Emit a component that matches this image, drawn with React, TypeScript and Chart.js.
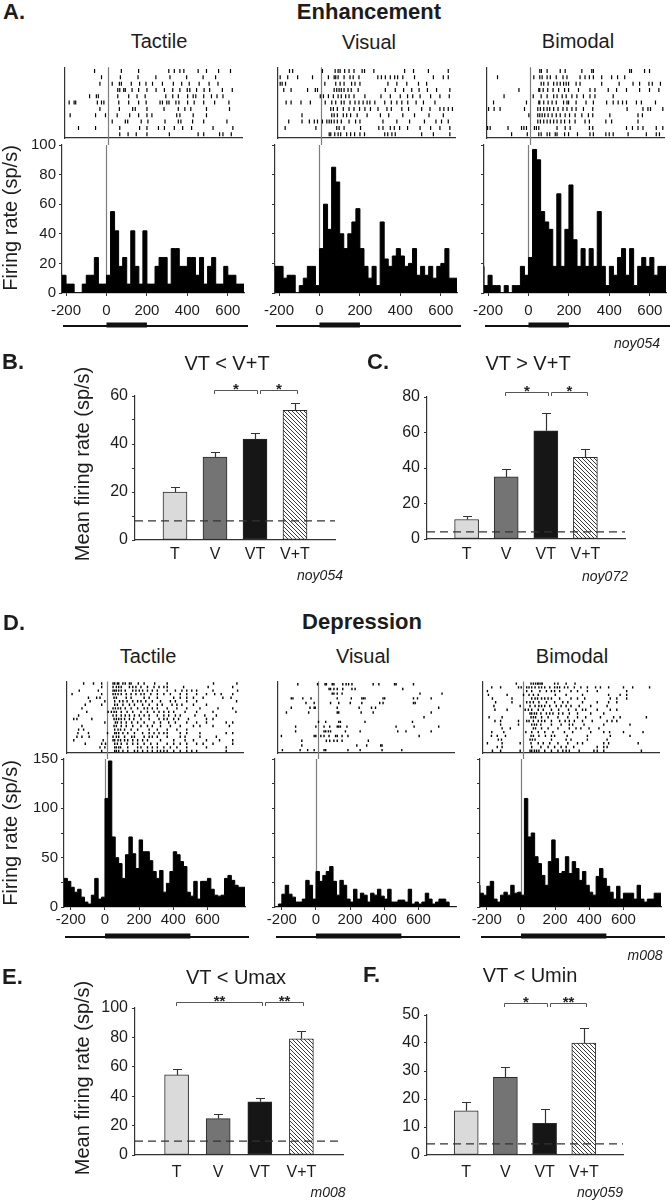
import React, { useEffect, useRef } from 'react';
import { Chart, registerables } from 'chart.js';

Chart.register(...registerables);

const FONT = '"Liberation Sans", Arial, Helvetica, sans-serif';
const INK = '#1c1c1c';
const AXIS = '#333333';
Chart.defaults.font.family = FONT;

// ---------------- Panel A : Enhancement ----------------
const A_X_MIN = -220;
const A_X_MAX = 680;
const A_BIN_MS = 20;
const A_X_TICKS = [-200, 0, 200, 400, 600];
const A_STIMULUS = [0, 200];
const A_Y_MAX = 100;

const A_TACTILE_RATE = [12, 12, 6, 6, 0, 0, 6, 12, 12, 24, 6, 6, 12, 55, 42, 18, 24, 6, 42, 18, 6, 42, 6, 6, 18, 24, 24, 6, 30, 30, 18, 18, 24, 24, 12, 24, 6, 18, 24, 6, 6, 18, 12, 12, 6];
const A_VISUAL_RATE = [10, 18, 18, 10, 12, 12, 0, 5, 10, 18, 18, 5, 30, 60, 43, 85, 75, 40, 30, 40, 48, 57, 30, 18, 10, 18, 5, 48, 23, 18, 25, 30, 25, 18, 20, 30, 12, 18, 12, 18, 10, 18, 20, 30, 10];
const A_BIMODAL_RATE = [18, 5, 12, 5, 5, 0, 5, 0, 5, 5, 18, 12, 24, 97, 90, 55, 48, 43, 18, 67, 18, 43, 73, 36, 18, 30, 18, 30, 18, 55, 18, 5, 18, 12, 24, 30, 12, 30, 5, 18, 24, 18, 24, 12, 18];

const A_TACTILE_SPIKES = [
  [-67, 68, 155, 307, 335, 363, 383, 455, 497, 558, 618],
  [-32, 63, 152, 242, 313, 397, 480, 543],
  [-40, 22, 58, 68, 118, 160, 192, 225, 275, 330, 372, 410, 460, 510, 555],
  [50, 60, 80, 88, 122, 155, 197, 243, 285, 327, 363, 400, 413, 447, 485, 513, 577, 627],
  [-92, -58, -48, 50, 105, 147, 188, 292, 327, 355, 402, 430, 443, 483, 522, 550, 580],
  [-195, -170, -162, -53, -32, -20, 55, 105, 155, 193, 263, 275, 297, 308, 343, 358, 402, 435, 483, 538, 610],
  [-40, 58, 125, 138, 197, 283, 355, 388, 418, 497, 613],
  [-190, -62, -12, 47, 110, 155, 197, 222, 347, 363, 430, 497],
  [22, 88, 100, 168, 202, 288, 355, 368, 427, 483, 600],
  [-148, -62, 60, 160, 197, 255, 285, 335, 377, 422, 530, 630],
  [60, 102, 143, 197, 310, 455, 483, 563, 580, 622],
];
const A_VISUAL_SPIKES = [
  [-158, -142, 8, 72, 87, 97, 120, 142, 167, 208, 220, 267, 422, 467, 542, 642],
  [-205, -167, -117, -42, 38, 67, 75, 87, 117, 147, 163, 192, 287, 305, 325, 350, 372, 387, 413, 472, 567, 617, 642],
  [-205, -195, -178, 20, 75, 97, 117, 155, 172, 197, 338, 383, 433, 492, 533],
  [-187, -150, -67, -28, -17, 67, 80, 92, 103, 117, 137, 153, 188, 325, 375, 417, 458, 495, 537, 583, 650],
  [-3, 13, 38, 63, 87, 103, 125, 142, 167, 222, 303, 350, 400, 437, 463, 500, 553, 600, 647],
  [-175, -150, -100, -53, 22, 55, 75, 103, 117, 147, 172, 192, 213, 233, 247, 272, 322, 355, 383, 408, 438, 480, 517, 575],
  [50, 63, 83, 113, 142, 167, 195, 222, 250, 288, 333, 355, 408, 442, 508, 550, 600, 620, 642, 663],
  [-95, 55, 67, 83, 113, 130, 150, 183, 233, 300, 342, 413, 472, 545, 617],
  [-162, -95, -58, -33, -17, 8, 30, 42, 53, 67, 83, 103, 142, 175, 197, 313, 383, 447, 522, 580, 608, 642],
  [-180, -25, 80, 92, 117, 200, 292, 313, 350, 370, 397, 437, 500, 553, 600, 650],
  [42, 50, 70, 87, 100, 130, 150, 170, 197, 220, 322, 337, 358, 375, 508, 567, 650],
];
const A_BIMODAL_SPIKES = [
  [50, 58, 87, 153, 178, 262, 312, 320, 503, 512, 578, 603],
  [-163, 20, 50, 62, 87, 103, 133, 167, 187, 253, 278, 300, 320, 362, 412, 442, 478],
  [57, 70, 92, 120, 137, 153, 170, 183, 195, 233, 253, 362, 450, 520, 553, 600, 617, 658],
  [-55, 45, 50, 67, 90, 117, 145, 175, 195, 245, 303, 328, 395, 437, 487, 553, 603, 650],
  [-130, 17, 57, 87, 120, 137, 163, 183, 212, 237, 270, 303, 328, 420],
  [-183, -17, 45, 50, 70, 92, 112, 133, 170, 187, 195, 233, 283, 320, 387, 420, 445, 467, 487, 537, 562, 633],
  [-208, -180, -150, -27, 40, 53, 70, 87, 100, 120, 142, 167, 187, 212, 233, 270, 317, 490, 570, 595, 608, 670],
  [-5, 40, 50, 62, 75, 92, 112, 133, 153, 178, 200, 228, 262, 295, 317, 403, 545, 567],
  [40, 53, 70, 87, 103, 120, 137, 157, 175, 200, 228, 278, 300, 383, 412, 545],
  [-213, -200, -110, -42, -30, -17, 23, 33, 45, 137, 178, 203, 300, 317, 487, 517, 545, 570, 637, 670],
  [-92, -13, 45, 57, 87, 100, 128, 137, 175, 195, 240, 303, 320, 383, 400, 420, 495, 587, 637, 653],
];

// ---------------- Bar panels ----------------
const BAR_LABELS = ['T', 'V', 'VT', 'V+T'];

const B_MEANS = [20, 34.5, 42, 54];
const B_SEM = [2, 2.3, 2.5, 3];
const B_BASELINE = 8;
const B_BRACKETS: [number, number, string][] = [[1, 2, '*'], [2, 3, '*']];

const C_MEANS = [11, 35, 61, 46];
const C_SEM = [2.2, 4.4, 10, 4.5];
const C_BASELINE = 4;
const C_BRACKETS: [number, number, string][] = [[1, 2, '*'], [2, 3, '*']];

const E_MEANS = [54.5, 24.7, 36.2, 79];
const E_SEM = [4.3, 3.2, 2.7, 5.5];
const E_BASELINE = 9.5;
const E_BRACKETS: [number, number, string][] = [[0, 2, '**'], [2, 3, '**']];

const F_MEANS = [15.8, 27.7, 11.3, 40];
const F_SEM = [3, 3.6, 5, 5.5];
const F_BASELINE = 4;
const F_BRACKETS: [number, number, string][] = [[1, 2, '*'], [2, 3, '**']];

// ---------------- Panel D : Depression ----------------
const D_X_MIN = -240;
const D_X_MAX = 820;
const D_BIN_MS = 20;
const D_X_TICKS = [-200, 0, 200, 400, 600];
const D_STIMULUS = [0, 500];
const D_Y_MAX = 150;

const D_TACTILE_RATE = [15, 29, 26, 20, 15, 18, 10, 5, 3, 12, 29, 8, 10, 110, 148, 71, 50, 44, 29, 53, 71, 54, 39, 68, 56, 56, 47, 36, 29, 37, 15, 24, 36, 56, 53, 46, 41, 15, 11, 26, 8, 26, 26, 29, 18, 12, 11, 12, 29, 32, 27, 22, 20];
const D_VISUAL_RATE = [0, 0, 3, 13, 22, 13, 10, 5, 5, 8, 27, 22, 8, 36, 26, 32, 36, 41, 26, 12, 27, 22, 8, 5, 18, 8, 14, 12, 5, 14, 12, 18, 11, 8, 18, 5, 5, 7, 7, 5, 18, 3, 5, 3, 5, 14, 8, 3, 5, 8, 8, 5, 0];
const D_BIMODAL_RATE = [22, 14, 12, 21, 26, 8, 5, 12, 15, 12, 22, 14, 15, 12, 110, 71, 75, 51, 44, 32, 22, 46, 68, 49, 34, 36, 51, 34, 46, 39, 27, 36, 22, 15, 12, 31, 39, 29, 21, 15, 8, 21, 8, 14, 14, 14, 8, 22, 8, 5, 8, 8, 14];

const D_TACTILE_SPIKES = [
  [-137, -78, -29, 39, 49, 65, 73, 98, 112, 137, 147, 190, 225, 288, 363, 640, 780],
  [-29, 39, 59, 73, 88, 137, 157, 176, 206, 245, 284, 314, 343, 363, 461, 608, 755],
  [-163, -49, 39, 49, 59, 73, 88, 112, 157, 176, 196, 216, 245, 274, 304, 363, 412, 451, 480, 510, 539, 637, 784],
  [-206, -29, 39, 53, 69, 88, 118, 147, 176, 206, 225, 265, 304, 343, 382, 441, 480, 539, 598, 647, 686, 755],
  [-108, -59, -39, 45, 59, 118, 147, 225, 255, 304, 402, 441, 480, 520, 578, 696, 745],
  [-98, -10, 49, 78, 98, 123, 157, 186, 206, 235, 274, 323, 382, 412, 480, 539, 778],
  [-127, -29, 49, 65, 98, 137, 167, 216, 255, 304, 333, 392, 421, 451, 520, 598],
  [-147, 39, 53, 69, 84, 112, 147, 186, 225, 245, 274, 304, 363, 421, 480, 559, 667, 755],
  [-118, 10, 29, 45, 59, 88, 123, 157, 206, 245, 284, 314, 343, 372, 402, 470, 539, 637, 774],
  [-167, 39, 59, 88, 112, 137, 167, 196, 225, 255, 304, 343, 372, 412, 441, 529, 588, 657],
  [-196, -177, -88, 45, 59, 73, 88, 108, 137, 163, 206, 255, 314, 343, 363, 402, 431, 490, 598, 637],
  [-10, 53, 65, 88, 118, 151, 186, 225, 284, 323, 372, 412, 480, 539, 598, 716, 755],
  [-147, 45, 59, 88, 118, 157, 206, 245, 274, 323, 382, 441, 520, 559, 637, 735],
  [-167, -137, 49, 69, 84, 108, 147, 186, 255, 304, 363, 421, 480],
  [-171, -108, 6, 49, 59, 73, 98, 127, 167, 216, 255, 284, 314, 343, 363, 441, 480, 559, 716, 755],
  [-177, -147, -104, 39, 59, 73, 108, 151, 167, 225, 255, 274, 304, 363, 441, 470, 559, 657],
  [-196, -20, 39, 49, 69, 84, 108, 127, 157, 186, 216, 245, 323, 402, 470, 520, 598, 676, 755],
  [-127, -29, -6, 49, 65, 88, 123, 157, 186, 225, 265, 304, 363, 402, 441, 480, 539, 578, 637, 755],
  [-39, -10, 49, 59, 73, 84, 127, 186, 206, 245, 274, 304, 343, 382, 421, 480, 598, 716],
  [-29, 49, 59, 73, 98, 127, 167, 186, 216, 245, 274, 304, 323, 343, 363, 402, 441, 480, 510, 539, 716],
];
const D_VISUAL_SPIKES = [
  [-118, 0, 45, 53, 88, 98, 151, 171, 186, 206, 333, 367, 461, 470, 574],
  [69, 78, 98, 118, 151, 206, 225, 510],
  [88, 98, 118, 147, 613, 745],
  [-157, -147, -88, -39, 118, 202, 265, 274, 284, 392, 402, 574, 598, 680],
  [-69, -20, 78, 127, 196, 265, 372, 392, 574, 584],
  [-157, -45, -20, -14, 118, 249, 323, 347, 725],
  [-186, -53, 118, 127, 261, 333, 680],
  [637],
  [6, 49, 127, 137, 284, 568],
  [-131, -10, 39, 73, 118, 127, 137, 176, 470, 578, 725],
  [-131, 39, 49, 65, 78, 167, 255, 480, 529, 680],
  [-216, -20, -10, 20, 39, 69, 108, 118, 147, 182, 608],
  [-94, 53, 73, 98, 118, 147, 304],
  [-94, 235, 294, 378, 386],
  [-210, -104, -59, -20, 39, 49, 182, 255, 386, 504],
];
const D_BIMODAL_SPIKES = [
  [-37, 51, 65, 78, 90, 98, 110, 118, 192, 212, 261, 314],
  [-184, -131, -24, -8, 25, 39, 55, 75, 98, 114, 133, 163, 192, 208, 222, 251, 271, 310, 349, 388, 437, 466, 515, 604, 659, 760],
  [-210, 25, 55, 104, 143, 173, 192, 222, 290, 329, 388, 447, 623],
  [-204, -92, 6, 39, 65, 94, 196, 261, 359, 515, 584, 623],
  [-180, -63, 55, 75, 90, 114, 133, 153, 173, 222, 290, 329, 372, 525, 564, 623],
  [-161, -63, 25, 45, 65, 98, 143, 192, 241, 271, 359, 447, 515, 564],
  [-171, -14, 45, 75, 98, 114, 133, 163, 202, 231, 261, 290, 339, 408, 506],
  [-165, -92, 16, 35, 55, 94, 124, 173, 216, 275, 320, 359, 378, 447, 525, 564],
  [45, 55, 71, 84, 110, 143, 163, 182, 216, 241, 280, 329, 408, 486],
  [-200, -122, 51, 65, 78, 114, 153, 212, 271, 329, 378, 466, 545, 584, 741],
  [-165, -131, -24, 25, 39, 65, 94, 114, 133, 173, 222, 255, 280, 310, 359, 417, 506, 535, 564],
  [-131, -24, 55, 71, 84, 110, 173, 231, 280, 300, 368, 486, 643],
  [-122, -73, 65, 78, 114, 153, 212, 280, 320, 349, 398, 457],
  [-184, -112, 20, 55, 94, 133, 182, 251, 300, 408, 486, 521, 604, 721],
  [-186, -151, -102, 51, 65, 98, 137, 173, 192, 267, 388, 525, 643],
  [-145, -126, 45, 59, 75, 173, 261, 290, 388, 506],
  [-210, -122, -14, 51, 94, 124, 163, 212, 271, 329, 359, 486, 515, 692],
  [-151, -122, 55, 110, 153, 192, 231, 261, 306, 447, 486, 506],
  [-180, -131, -14, 45, 55, 71, 84, 98, 133, 173, 212, 241, 261, 280, 339, 427, 447, 486, 711],
];

// ---------------- helpers ----------------
type Box = { l: number; t: number; r: number; b: number };

const TICK_FONT = { family: FONT, size: 15 };
const BAR_TICK_FONT = { family: FONT, size: 16 };

function baseOptions(pad: Box): any {
  return {
    animation: false,
    responsive: false,
    maintainAspectRatio: false,
    devicePixelRatio: 1,
    events: [],
    layout: { padding: { left: 0, top: pad.t, right: pad.r, bottom: 0 } },
  };
}

const vLinePlugin = {
  id: 'vline',
  beforeDatasetsDraw(chart: any, _a: any, o: any) {
    if (!o || o.at === undefined) return;
    const x = Math.round(chart.scales.x.getPixelForValue(o.at)) + 0.5;
    const { top, bottom } = chart.chartArea;
    const ctx = chart.ctx;
    ctx.save();
    ctx.strokeStyle = '#7d7d7d';
    ctx.lineWidth = 1.2;
    ctx.beginPath();
    ctx.moveTo(x, top);
    ctx.lineTo(x, o.toCanvasBottom ? chart.height : bottom);
    ctx.stroke();
    ctx.restore();
  },
};

const stimPlugin = {
  id: 'stim',
  afterDraw(chart: any, _a: any, o: any) {
    if (!o || !o.range) return;
    const xs = chart.scales.x;
    const { left, right, bottom } = chart.chartArea;
    const ctx = chart.ctx;
    const y = bottom + o.offset;
    ctx.save();
    ctx.fillStyle = '#111';
    ctx.fillRect(left + 1, y - 1, right - left + 3, 2);
    const x0 = xs.getPixelForValue(o.range[0]);
    const x1 = xs.getPixelForValue(o.range[1]);
    ctx.fillRect(x0, y - 3.5, x1 - x0, 5);
    ctx.restore();
  },
};

const errorPlugin = {
  id: 'errbars',
  afterDatasetsDraw(chart: any, _a: any, o: any) {
    if (!o || !o.errors) return;
    const meta = chart.getDatasetMeta(0);
    const ys = chart.scales.y;
    const data = chart.data.datasets[0].data as any[];
    const ctx = chart.ctx;
    ctx.save();
    ctx.strokeStyle = '#333';
    ctx.lineWidth = 1.2;
    meta.data.forEach((el: any, i: number) => {
      const top = Math.round(ys.getPixelForValue(data[i].y + o.errors[i])) + 0.5;
      const x = Math.round(el.x) + 0.5;
      ctx.beginPath();
      ctx.moveTo(x, el.y);
      ctx.lineTo(x, top);
      ctx.moveTo(x - 4.5, top);
      ctx.lineTo(x + 4.5, top);
      ctx.stroke();
    });
    ctx.restore();
  },
};

const bracketPlugin = {
  id: 'brackets',
  afterDraw(chart: any, _a: any, o: any) {
    if (!o || !o.items) return;
    const xs = chart.scales.x;
    const ys = chart.scales.y;
    const ctx = chart.ctx;
    const y = Math.round(ys.getPixelForValue(o.y)) + 0.5;
    ctx.save();
    ctx.strokeStyle = '#555';
    ctx.lineWidth = 1;
    ctx.fillStyle = '#222';
    ctx.font = `bold 15px ${FONT}`;
    ctx.textAlign = 'center';
    ctx.textBaseline = 'alphabetic';
    (o.items as [number, number, string][]).forEach(([a, b, label]) => {
      const shared = (o.items as [number, number, string][]).some((it) => it[1] === a);
      const x0 = Math.round(xs.getPixelForValue(a) + (shared ? 5 : -1)) + 0.5;
      const x1 = Math.round(xs.getPixelForValue(b) + 2) + 0.5;
      ctx.beginPath();
      ctx.moveTo(x0, y + 3.5);
      ctx.lineTo(x0, y);
      ctx.lineTo(x1, y);
      ctx.lineTo(x1, y + 3.5);
      ctx.stroke();
      ctx.fillText(label, (x0 + x1) / 2, y + 3);
    });
    ctx.restore();
  },
};

function makeRaster(canvas: HTMLCanvasElement, pad: Box, rows: number[][], xMin: number, xMax: number, mark: number, width: number) {
  const points = rows.flatMap((times, i) => times.map((t) => ({ x: t, y: i + 1 })));
  const opts = baseOptions(pad);
  return new Chart(canvas, {
    type: 'scatter',
    data: {
      datasets: [
        {
          data: points,
          pointStyle: 'line',
          pointRotation: 90,
          pointRadius: mark,
          pointBorderWidth: width,
          pointBorderColor: '#000',
          pointBackgroundColor: '#000',
          showLine: false,
        } as any,
      ],
    },
    options: {
      ...opts,
      scales: {
        x: {
          type: 'linear', min: xMin, max: xMax,
          ticks: { display: false }, grid: { display: false, drawTicks: false },
          border: { display: true, color: AXIS, width: 1.2 },
          afterFit: (s: any) => { s.height = pad.b; },
        },
        y: {
          type: 'linear', reverse: true, min: 0.4, max: rows.length + 0.6,
          ticks: { display: false }, grid: { display: false, drawTicks: false },
          border: { display: true, color: AXIS, width: 1.2 },
          afterFit: (s: any) => { s.width = pad.l; },
        },
      },
      plugins: { legend: { display: false }, tooltip: { enabled: false }, vline: { at: 0, toCanvasBottom: true } } as any,
    } as any,
    plugins: [vLinePlugin],
  });
}

type HistCfg = {
  rates: number[]; binStart: number; binMs: number; xMin: number; xMax: number; xTicks: number[];
  yMax: number; yStep: number; labelEvery: number; showLabels: boolean; stim: number[]; stimOffset: number; xPad: number;
};

function makeHist(canvas: HTMLCanvasElement, pad: Box, h: HistCfg) {
  const pts = h.rates.map((v, i) => ({ x: h.binStart + i * h.binMs, y: v }));
  pts.push({ x: h.binStart + h.rates.length * h.binMs, y: h.rates[h.rates.length - 1] });
  const opts = baseOptions(pad);
  return new Chart(canvas, {
    type: 'line',
    data: {
      datasets: [
        { data: pts, stepped: 'after', fill: 'origin', backgroundColor: '#000', borderColor: '#000', borderWidth: 1, pointRadius: 0 } as any,
      ],
    },
    options: {
      ...opts,
      scales: {
        x: {
          type: 'linear', min: h.xMin, max: h.xMax,
          afterBuildTicks: (s: any) => { s.ticks = h.xTicks.map((v) => ({ value: v })); },
          ticks: { font: TICK_FONT, color: INK, padding: h.xPad, maxRotation: 0, autoSkip: false, callback: (v: any) => String(v) },
          grid: { display: true, drawOnChartArea: false, tickLength: 3, color: AXIS },
          border: { display: true, color: AXIS, width: 1.2 },
          afterFit: (s: any) => { s.height = pad.b; },
        },
        y: {
          type: 'linear', min: 0, max: h.yMax,
          ticks: {
            stepSize: h.yStep, font: TICK_FONT, color: INK, padding: 3,
            callback: (v: any) => (h.showLabels && v % h.labelEvery === 0 ? String(v) : ''),
          },
          grid: { display: true, drawOnChartArea: false, tickLength: 3, color: AXIS },
          border: { display: true, color: AXIS, width: 1.2 },
          afterFit: (s: any) => { s.width = pad.l; },
        },
      },
      plugins: {
        legend: { display: false }, tooltip: { enabled: false },
        vline: { at: 0, toCanvasBottom: false },
        stim: { range: h.stim, offset: h.stimOffset },
      } as any,
    } as any,
    plugins: [vLinePlugin, stimPlugin],
  });
}

function hatchPattern(): any {
  const c = document.createElement('canvas');
  c.width = 4;
  c.height = 4;
  const g = c.getContext('2d')!;
  g.fillStyle = '#ffffff';
  g.fillRect(0, 0, 4, 4);
  g.strokeStyle = '#3a3a3a';
  g.lineWidth = 1;
  g.beginPath();
  g.moveTo(0, 0); g.lineTo(4, 4);
  g.moveTo(-1, 3); g.lineTo(1, 5);
  g.moveTo(3, -1); g.lineTo(5, 1);
  g.stroke();
  return g.createPattern(c, 'repeat');
}

type BarCfg = {
  means: number[]; errors: number[]; baseline: number; yMax: number; yStep: number; labelEvery: number;
  brackets: [number, number, string][]; bracketY: number; xPad: number;
};

function makeBars(canvas: HTMLCanvasElement, pad: Box, b: BarCfg) {
  const opts = baseOptions(pad);
  const fills = ['#dadada', '#747474', '#161616', hatchPattern()];
  return new Chart(canvas, {
    type: 'bar',
    data: {
      datasets: [
        {
          type: 'bar',
          data: b.means.map((m, i) => ({ x: i, y: m })),
          backgroundColor: fills,
          borderColor: '#2a2a2a',
          borderWidth: 1,
          borderSkipped: false,
          barThickness: 24,
          order: 1,
        } as any,
        {
          type: 'line',
          data: [{ x: -1, y: b.baseline }, { x: BAR_LABELS.length, y: b.baseline }],
          borderColor: '#333',
          borderWidth: 1.2,
          borderDash: [8, 5],
          pointRadius: 0,
          fill: false,
          order: 0,
        } as any,
      ],
    },
    options: {
      ...opts,
      scales: {
        x: {
          type: 'linear', min: -1, max: BAR_LABELS.length, offset: false,
          afterBuildTicks: (s: any) => { s.ticks = BAR_LABELS.map((_, i) => ({ value: i })); },
          ticks: { font: BAR_TICK_FONT, color: INK, padding: b.xPad, maxRotation: 0, autoSkip: false, callback: (v: any) => BAR_LABELS[v] ?? '' },
          grid: { display: false, drawTicks: false, tickLength: 0, offset: false },
          border: { display: true, color: AXIS, width: 1.2 },
          afterFit: (s: any) => { s.height = pad.b; },
        },
        y: {
          type: 'linear', min: 0, max: b.yMax,
          ticks: {
            stepSize: b.yStep, font: BAR_TICK_FONT, color: INK, padding: 4,
            callback: (v: any) => (v % b.labelEvery === 0 ? String(v) : ''),
          },
          grid: { display: true, drawOnChartArea: false, tickLength: 3, color: AXIS },
          border: { display: true, color: AXIS, width: 1.2 },
          afterFit: (s: any) => { s.width = pad.l; },
        },
      },
      plugins: {
        legend: { display: false }, tooltip: { enabled: false },
        errbars: { errors: b.errors },
        brackets: { items: b.brackets, y: b.bracketY },
      } as any,
    } as any,
    plugins: [errorPlugin, bracketPlugin],
  });
}

// ---------------- layout ----------------
type Spec = { id: string; area: Box; pad: Box; make: (c: HTMLCanvasElement, pad: Box) => Chart };

const RP_A: Box = { l: 3, t: 3, r: 4, b: 7 };
const HP_A: Box = { l: 42, t: 12, r: 4, b: 42 };
const RP_D: Box = { l: 3, t: 3, r: 4, b: 6 };
const HP_D: Box = { l: 42, t: 12, r: 4, b: 40 };
const BP: Box = { l: 48, t: 34, r: 6, b: 32 };

const aHist = (rates: number[], showLabels: boolean): HistCfg => ({
  rates, binStart: A_X_MIN, binMs: A_BIN_MS, xMin: A_X_MIN, xMax: A_X_MAX, xTicks: A_X_TICKS,
  yMax: A_Y_MAX, yStep: 10, labelEvery: 20, showLabels, stim: A_STIMULUS, stimOffset: 33, xPad: 6,
});
const dHist = (rates: number[], showLabels: boolean): HistCfg => ({
  rates, binStart: D_X_MIN, binMs: D_BIN_MS, xMin: D_X_MIN, xMax: D_X_MAX, xTicks: D_X_TICKS,
  yMax: D_Y_MAX, yStep: 25, labelEvery: 50, showLabels, stim: D_STIMULUS, stimOffset: 30, xPad: 1,
});

const SPECS: Spec[] = [
  { id: 'aTR', area: { l: 62, t: 65, r: 244, b: 138 }, pad: RP_A, make: (c, p) => makeRaster(c, p, A_TACTILE_SPIKES, A_X_MIN, A_X_MAX, 2, 1.2) },
  { id: 'aVR', area: { l: 275, t: 65, r: 457, b: 138 }, pad: RP_A, make: (c, p) => makeRaster(c, p, A_VISUAL_SPIKES, A_X_MIN, A_X_MAX, 2, 1.2) },
  { id: 'aBR', area: { l: 484, t: 65, r: 666, b: 138 }, pad: RP_A, make: (c, p) => makeRaster(c, p, A_BIMODAL_SPIKES, A_X_MIN, A_X_MAX, 2, 1.2) },
  { id: 'aTH', area: { l: 62, t: 145, r: 244, b: 293 }, pad: HP_A, make: (c, p) => makeHist(c, p, aHist(A_TACTILE_RATE, true)) },
  { id: 'aVH', area: { l: 275, t: 145, r: 457, b: 293 }, pad: HP_A, make: (c, p) => makeHist(c, p, aHist(A_VISUAL_RATE, false)) },
  { id: 'aBH', area: { l: 484, t: 145, r: 666, b: 293 }, pad: HP_A, make: (c, p) => makeHist(c, p, aHist(A_BIMODAL_RATE, false)) },
  { id: 'B', area: { l: 135, t: 396, r: 335, b: 540 }, pad: BP, make: (c, p) => makeBars(c, p, { means: B_MEANS, errors: B_SEM, baseline: B_BASELINE, yMax: 60, yStep: 10, labelEvery: 20, brackets: B_BRACKETS, bracketY: 62.5, xPad: 5 }) },
  { id: 'C', area: { l: 427, t: 397, r: 625, b: 539 }, pad: BP, make: (c, p) => makeBars(c, p, { means: C_MEANS, errors: C_SEM, baseline: C_BASELINE, yMax: 80, yStep: 20, labelEvery: 20, brackets: C_BRACKETS, bracketY: 82.8, xPad: 6 }) },
  { id: 'dTR', area: { l: 64, t: 679, r: 245, b: 753 }, pad: RP_D, make: (c, p) => makeRaster(c, p, D_TACTILE_SPIKES, D_X_MIN, D_X_MAX, 1.2, 1.4) },
  { id: 'dVR', area: { l: 275, t: 679, r: 456, b: 753 }, pad: RP_D, make: (c, p) => makeRaster(c, p, D_VISUAL_SPIKES, D_X_MIN, D_X_MAX, 1.2, 1.4) },
  { id: 'dBR', area: { l: 480, t: 679, r: 661, b: 753 }, pad: RP_D, make: (c, p) => makeRaster(c, p, D_BIMODAL_SPIKES, D_X_MIN, D_X_MAX, 1.2, 1.4) },
  { id: 'dTH', area: { l: 64, t: 759, r: 245, b: 907 }, pad: HP_D, make: (c, p) => makeHist(c, p, dHist(D_TACTILE_RATE, true)) },
  { id: 'dVH', area: { l: 275, t: 759, r: 456, b: 907 }, pad: HP_D, make: (c, p) => makeHist(c, p, dHist(D_VISUAL_RATE, false)) },
  { id: 'dBH', area: { l: 480, t: 759, r: 661, b: 907 }, pad: HP_D, make: (c, p) => makeHist(c, p, dHist(D_BIMODAL_RATE, false)) },
  { id: 'E', area: { l: 135, t: 1008, r: 343, b: 1155 }, pad: BP, make: (c, p) => makeBars(c, p, { means: E_MEANS, errors: E_SEM, baseline: E_BASELINE, yMax: 100, yStep: 20, labelEvery: 20, brackets: E_BRACKETS, bracketY: 104, xPad: 8 }) },
  { id: 'F', area: { l: 427, t: 1015, r: 623, b: 1155 }, pad: BP, make: (c, p) => makeBars(c, p, { means: F_MEANS, errors: F_SEM, baseline: F_BASELINE, yMax: 50, yStep: 10, labelEvery: 10, brackets: F_BRACKETS, bracketY: 54.3, xPad: 8 }) },
];

function canvasBox(s: Spec) {
  return {
    x: s.area.l - s.pad.l,
    y: s.area.t - s.pad.t,
    w: s.area.r - s.area.l + s.pad.l + s.pad.r,
    h: s.area.b - s.area.t + s.pad.t + s.pad.b,
  };
}

type LabelProps = { x: number; y: number; text: string; size?: number; bold?: boolean; italic?: boolean; left?: boolean; rotate?: boolean };

function Label({ x, y, text, size = 20, bold = false, italic = false, left = false, rotate = false }: LabelProps) {
  return (
    <div
      style={{
        position: 'absolute', left: x, top: y,
        transform: `translate(${left ? '0' : '-50%'}, -50%)${rotate ? ' rotate(-90deg)' : ''}`,
        fontFamily: FONT, fontSize: size, fontWeight: bold ? 700 : 400, fontStyle: italic ? 'italic' : 'normal',
        whiteSpace: 'nowrap', lineHeight: 1, color: INK,
      }}
    >
      {text}
    </div>
  );
}

export default function App() {
  const refs = useRef<Record<string, HTMLCanvasElement | null>>({});
  useEffect(() => {
    const charts = SPECS.map((s) => s.make(refs.current[s.id] as HTMLCanvasElement, s.pad));
    return () => charts.forEach((c) => c.destroy());
  }, []);

  return (
    <div style={{ position: 'absolute', left: 0, top: 0, width: 670, height: 1200, overflow: 'hidden', background: '#fff' }}>
      {SPECS.map((s) => {
        const b = canvasBox(s);
        return (
          <canvas
            key={s.id}
            ref={(el) => { refs.current[s.id] = el; }}
            width={b.w}
            height={b.h}
            style={{ position: 'absolute', left: b.x, top: b.y, width: b.w, height: b.h }}
          />
        );
      })}

      <Label x={3} y={12} text="A." size={22} bold left />
      <Label x={369} y={12} text="Enhancement" size={22} bold />
      <Label x={159} y={41} text="Tactile" />
      <Label x={369} y={42} text="Visual" />
      <Label x={578} y={41} text="Bimodal" />
      <Label x={10} y={218} text="Firing rate (sp/s)" rotate />
      <Label x={637} y={343} text="noy054" size={14} italic />

      <Label x={2} y={362} text="B." size={22} bold left />
      <Label x={227} y={363} text="VT < V+T" />
      <Label x={82} y={464} text="Mean firing rate (sp/s)" rotate />
      <Label x={320} y={575} text="noy054" size={14} italic />
      <Label x={367} y={362} text="C." size={22} bold left />
      <Label x={528} y={363} text="VT > V+T" />
      <Label x={605} y={576} text="noy072" size={14} italic />

      <Label x={3} y={623} text="D." size={22} bold left />
      <Label x={362} y={622} text="Depression" size={22} bold />
      <Label x={148} y={656} text="Tactile" />
      <Label x={363} y={656} text="Visual" />
      <Label x={572} y={656} text="Bimodal" />
      <Label x={10} y={833} text="Firing rate (sp/s)" rotate />
      <Label x={645} y={955} text="m008" size={14} italic />

      <Label x={2} y={977} text="E." size={22} bold left />
      <Label x={236} y={977} text="VT < Umax" />
      <Label x={82} y={1078} text="Mean firing rate (sp/s)" rotate />
      <Label x={328} y={1192} text="m008" size={14} italic />
      <Label x={363} y={975} text="F." size={22} bold left />
      <Label x={530} y={975} text="VT < Umin" />
      <Label x={600} y={1192} text="noy059" size={14} italic />
    </div>
  );
}
